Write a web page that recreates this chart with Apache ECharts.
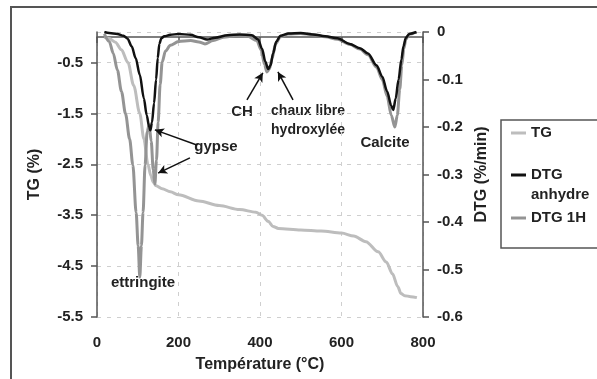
<!DOCTYPE html>
<html>
<head>
	<meta charset="utf-8">
	<title>TG / DTG</title>
	<script src="https://cdn.jsdelivr.net/npm/echarts@6/dist/echarts.min.js"></script>
	<style>
		body{ margin:0; background:#fff; }
		#main{ width:597px; height:379px; }
	</style>
</head>
<body>
<div id="main"></div>
<script type="text/javascript">
	// temperature (°C) / value pairs
	var tgTemp = [18,30,45,60,76,90,105,115,125,132,138,145,160,180,200,250,300,350,390,405,420,432,445,500,550,600,630,660,690,710,725,738,746,755,770,785];
	var tgVal  = [0,-0.03,-0.1,-0.25,-0.5,-0.95,-1.5,-2.0,-2.5,-2.72,-2.85,-2.92,-2.98,-3.04,-3.1,-3.22,-3.31,-3.39,-3.44,-3.5,-3.62,-3.72,-3.76,-3.79,-3.81,-3.85,-3.91,-4.02,-4.22,-4.42,-4.65,-4.9,-5.04,-5.08,-5.1,-5.12];

	var anhTemp = [18,30,50,65,75,85,95,105,115,122,128,131,135,140,145,149,153,158,165,180,200,230,250,270,290,320,350,380,395,405,413,420,426,432,440,450,470,500,530,560,590,620,645,665,686,700,712,722,727,733,740,747,752,758,766,784];
	var anhVal  = [0,-0.002,-0.004,-0.008,-0.014,-0.03,-0.055,-0.09,-0.14,-0.175,-0.2,-0.207,-0.19,-0.15,-0.1,-0.055,-0.025,-0.013,-0.009,-0.006,-0.004,-0.006,-0.011,-0.016,-0.012,-0.007,-0.005,-0.007,-0.015,-0.035,-0.062,-0.078,-0.07,-0.045,-0.02,-0.008,-0.003,-0.002,-0.005,-0.009,-0.013,-0.025,-0.034,-0.045,-0.07,-0.094,-0.125,-0.155,-0.164,-0.14,-0.1,-0.058,-0.03,-0.012,-0.004,0];

	var h1Temp = [18,30,40,50,60,70,80,88,96,101,105,109,113,118,123,128,133,138,142,146,150,155,160,168,180,200,230,250,265,285,310,340,370,392,403,411,417,423,430,438,450,470,500,530,560,590,620,645,665,686,700,712,722,731,737,743,748,753,758,766,784];
	var h1Val  = [-0.004,-0.02,-0.045,-0.08,-0.125,-0.172,-0.225,-0.28,-0.38,-0.45,-0.516,-0.45,-0.38,-0.28,-0.21,-0.195,-0.23,-0.29,-0.32,-0.27,-0.19,-0.11,-0.063,-0.04,-0.028,-0.02,-0.018,-0.021,-0.025,-0.018,-0.011,-0.008,-0.009,-0.018,-0.038,-0.068,-0.084,-0.078,-0.055,-0.025,-0.01,-0.004,-0.003,-0.006,-0.01,-0.015,-0.026,-0.036,-0.048,-0.074,-0.1,-0.135,-0.175,-0.2,-0.175,-0.12,-0.07,-0.035,-0.015,-0.005,0];

	var seriesNames = ['TG', 'DTG anhydre', 'DTG 1H'];

	// arrows, in (°C, DTG) units: [from, to]
	var arrows = [
		[[245,-0.238],[142,-0.206]],
		[[228,-0.265],[150,-0.297]],
		[[368,-0.143],[407,-0.086]],
		[[481,-0.143],[444,-0.084]]
	];

	function pairs(xs, ys){
		var out = [];
		for(var i=0;i<xs.length;i++){
			out.push([xs[i], ys[i]]);
		}
		return out;
	}

	var font = 'Liberation Sans, Arial, sans-serif';
	var txt = '#222';

	var myChart = echarts.init(document.getElementById('main'));

	var legendBase = {
		orient: 'vertical',
		left: 511,
		padding: 0,
		icon: 'rect',
		itemWidth: 15,
		itemHeight: 3,
		selectedMode: false,
		textStyle: { fontFamily: font, fontWeight: 'bold', fontSize: 15, color: txt, lineHeight: 20 }
	};

	var option = {
		backgroundColor: '#fff',
		animation: false,
		grid: { left: 97, right: 174, top: 32, bottom: 62 },
		legend: [
			Object.assign({}, legendBase, { data: ['TG'], top: 123 }),
			Object.assign({}, legendBase, { data: ['DTG anhydre'], top: 145,
				formatter: function(){ return '\nDTG\nanhydre'; } }),
			Object.assign({}, legendBase, { data: ['DTG 1H'], top: 208 })
		],
		xAxis: {
			type: 'value',
			min: 0, max: 800, interval: 200,
			name: 'Température (°C)',
			nameLocation: 'middle',
			nameGap: 40,
			nameTextStyle: { fontFamily: font, fontWeight: 'bold', fontSize: 16, color: txt },
			axisLine: { lineStyle: { color: '#555', width: 1.5 } },
			axisTick: { show: true, length: 6, lineStyle: { color: '#555', width: 1.5 } },
			axisLabel: { margin: 18, fontFamily: font, fontWeight: 'bold', fontSize: 15, color: txt },
			splitLine: { show: true, lineStyle: { color: '#cfcfcf', type: [4, 6], width: 1 } }
		},
		yAxis: [{
			type: 'value',
			position: 'left',
			min: -5.5, max: 0.1, interval: 1,
			name: 'TG (%)',
			nameLocation: 'middle',
			nameRotate: 90,
			nameGap: 54,
			nameTextStyle: { fontFamily: font, fontWeight: 'bold', fontSize: 16, color: txt },
			axisLine: { show: true, lineStyle: { color: '#555', width: 1.5 } },
			axisTick: { show: true, length: 6, lineStyle: { color: '#555', width: 1.5 } },
			axisLabel: {
				margin: 14, showMaxLabel: false,
				fontFamily: font, fontWeight: 'bold', fontSize: 15, color: txt,
				formatter: function(v){ return v.toFixed(1); }
			},
			splitLine: { show: true, lineStyle: { color: '#cfcfcf', type: [4, 6], width: 1 } }
		}, {
			type: 'value',
			position: 'right',
			min: -0.6, max: 0, interval: 0.1,
			name: 'DTG (%/min)',
			nameLocation: 'middle',
			nameRotate: 90,
			nameGap: 50,
			nameTextStyle: { fontFamily: font, fontWeight: 'bold', fontSize: 16, color: txt },
			axisLine: { show: true, lineStyle: { color: '#555', width: 1.5 } },
			axisTick: { show: true, length: 6, lineStyle: { color: '#555', width: 1.5 } },
			axisLabel: {
				margin: 14,
				fontFamily: font, fontWeight: 'bold', fontSize: 15, color: txt,
				formatter: function(v){ var r = Math.round(v*10)/10; return r === 0 ? '0' : r.toFixed(1); }
			},
			splitLine: { show: false }
		}],
		series: [{
			name: seriesNames[0],
			type: 'line',
			yAxisIndex: 0,
			showSymbol: false,
			smooth: 0.3,
			smoothMonotone: 'x',
			itemStyle: { color: '#bdbdbd' },
			lineStyle: { color: '#bdbdbd', width: 3 },
			data: pairs(tgTemp, tgVal)
		}, {
			name: seriesNames[2],
			type: 'line',
			yAxisIndex: 1,
			showSymbol: false,
			smooth: 0.3,
			smoothMonotone: 'x',
			itemStyle: { color: '#949494' },
			lineStyle: { color: '#949494', width: 3 },
			data: pairs(h1Temp, h1Val)
		}, {
			name: seriesNames[1],
			type: 'line',
			yAxisIndex: 1,
			showSymbol: false,
			smooth: 0.3,
			smoothMonotone: 'x',
			itemStyle: { color: '#111' },
			lineStyle: { color: '#111', width: 2.5 },
			data: pairs(anhTemp, anhVal),
			markLine: {
				silent: true,
				symbol: ['none', 'arrow'],
				symbolSize: [7, 9],
				label: { show: false },
				lineStyle: { color: '#111', width: 1.5, type: 'solid' },
				data: arrows.map(function(a){ return [{ coord: a[0] }, { coord: a[1] }]; })
			}
		}],
		graphic: [
			{ type: 'rect', shape: { x: 11, y: 7, width: 620, height: 400 }, style: { fill: 'none', stroke: '#555', lineWidth: 2 }, silent: true },
			{ type: 'rect', shape: { x: 501, y: 120, width: 120, height: 128 }, style: { fill: 'none', stroke: '#555', lineWidth: 1.5 }, silent: true },
			{ type: 'text', x: 216, y: 147, style: { text: 'gypse', font: 'bold 15px ' + font, fill: txt, align: 'center', verticalAlign: 'middle' } },
			{ type: 'text', x: 242, y: 112, style: { text: 'CH', font: 'bold 15px ' + font, fill: txt, align: 'center', verticalAlign: 'middle' } },
			{ type: 'text', x: 308, y: 121, style: { text: 'chaux libre\nhydroxylée', font: 'bold 14px ' + font, lineHeight: 19, fill: txt, align: 'center', verticalAlign: 'middle' } },
			{ type: 'text', x: 385, y: 143, style: { text: 'Calcite', font: 'bold 15px ' + font, fill: txt, align: 'center', verticalAlign: 'middle' } },
			{ type: 'text', x: 143, y: 283, style: { text: 'ettringite', font: 'bold 15px ' + font, fill: txt, align: 'center', verticalAlign: 'middle' } }
		]
	};

	myChart.setOption(option);
</script>
</body>
</html>
